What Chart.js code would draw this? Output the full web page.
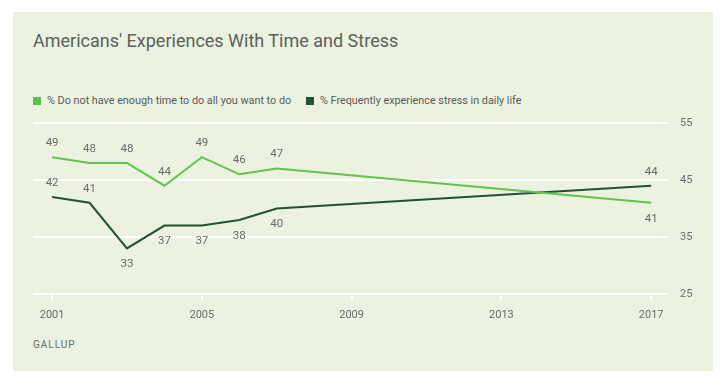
<!DOCTYPE html>
<html>
<head>
<meta charset="utf-8">
<script src="https://cdn.jsdelivr.net/npm/chart.js@4.4.1/dist/chart.umd.min.js"></script>
<style>
    html, body { margin: 0; padding: 0; background: #ffffff; }
    body { width: 728px; height: 386px; position: relative; overflow: hidden;
           font-family: Roboto, "Noto Sans", sans-serif; }
    .panel { position: absolute; left: 13px; top: 12px; width: 700px; height: 359px; background: #ebf2df; }
    .title { position: absolute; left: 33px; top: 30px; font-size: 18px; color: #5b615b; }
    .legend { position: absolute; top: 94px; font-size: 10.8px; color: #5a5a5a; white-space: nowrap; }
    .legend span.box { display: inline-block; width: 8px; height: 8px; margin-right: 6px; vertical-align: -1px; }
    .source { position: absolute; left: 33px; top: 339px; font-size: 10px; letter-spacing: 1px; color: #6a6a6a; }
    canvas { position: absolute; left: 0; top: 0; }
</style>
</head>
<body>
<div class="panel"></div>
<div class="title">Americans' Experiences With Time and Stress</div>
<div class="legend" style="left:33px"><span class="box" style="background:#5cbf4c"></span>% Do not have enough time to do all you want to do</div>
<div class="legend" style="left:306px"><span class="box" style="background:#24512f"></span>% Frequently experience stress in daily life</div>
<div class="source">GALLUP</div>
<canvas id="chart" width="728" height="386"></canvas>
<script>
//-----------------------------------------------------------------------------
// data
//-----------------------------------------------------------------------------
const years       = [2001, 2002, 2003, 2004, 2005, 2006, 2007, 2017];
const notEnoughTime = [49, 48, 48, 44, 49, 46, 47, 41];
const oftenStressed = [42, 41, 33, 37, 37, 38, 40, 44];
const yearTicks   = [2001, 2005, 2009, 2013, 2017];
const valueTicks  = [25, 35, 45, 55];

const lightGreen = '#62c352';
const darkGreen  = '#24512f';

// which side of the point each value label goes on
const timeLabelSide   = ['up', 'up', 'up', 'up', 'up', 'up', 'up', 'down'];
const stressLabelSide = ['up', 'up', 'down', 'down', 'down', 'down', 'down', 'up'];

function toPoints(values){
    return values.map((v, i) => ({ x: years[i], y: v }));
}
//-----------------------------------------------------------------------------
// little plugin to write the numbers next to each point
//-----------------------------------------------------------------------------
const valueLabels = {
    id: 'valueLabels',
    afterDatasetsDraw(chart){
        const ctx = chart.ctx;
        ctx.save();
        ctx.font = '11.5px Roboto, "Noto Sans", sans-serif';
        ctx.fillStyle = '#6b6b6b';
        ctx.textAlign = 'center';
        ctx.textBaseline = 'middle';
        chart.data.datasets.forEach((ds, di) => {
            const sides = ds.labelSides;
            chart.getDatasetMeta(di).data.forEach((pt, i) => {
                const dy = sides[i] === 'up' ? -14 : 16;
                ctx.fillText(ds.data[i].y, pt.x, pt.y + dy);
            });
        });
        ctx.restore();
    }
};

new Chart(document.getElementById('chart'), {
    type: 'line',
    data: {
        datasets: [
            {
                label: '% Do not have enough time to do all you want to do',
                data: toPoints(notEnoughTime),
                borderColor: lightGreen,
                borderWidth: 2,
                pointRadius: 0,
                tension: 0,
                labelSides: timeLabelSide
            },
            {
                label: '% Frequently experience stress in daily life',
                data: toPoints(oftenStressed),
                borderColor: darkGreen,
                borderWidth: 2,
                pointRadius: 0,
                tension: 0,
                labelSides: stressLabelSide
            }
        ]
    },
    options: {
        responsive: false,
        animation: false,
        layout: { padding: { left: 33, top: 123, right: 0, bottom: 0 } },
        plugins: {
            legend: { display: false },
            tooltip: { enabled: false }
        },
        scales: {
            x: {
                type: 'linear',
                min: 2000.49,
                max: 2017.45,
                afterBuildTicks: (axis) => { axis.ticks = yearTicks.map(v => ({ value: v })); },
                afterFit: (axis) => { axis.height = 92; },
                border: { display: false },
                grid: {
                    drawOnChartArea: false,
                    drawTicks: true,
                    tickLength: 6,
                    color: '#ffffff',
                    lineWidth: 2
                },
                ticks: {
                    padding: 9,
                    maxRotation: 0,
                    color: '#6b6b6b',
                    font: { size: 11, family: 'Roboto, "Noto Sans", sans-serif' },
                    callback: (v) => String(v)
                }
            },
            y: {
                position: 'right',
                min: 25,
                max: 55,
                afterBuildTicks: (axis) => { axis.ticks = valueTicks.map(v => ({ value: v })); },
                afterFit: (axis) => { axis.width = 60; },
                border: { display: false },
                grid: {
                    color: '#ffffff',
                    lineWidth: 2,
                    drawTicks: false
                },
                ticks: {
                    padding: 12,
                    color: '#6b6b6b',
                    font: { size: 11, family: 'Roboto, "Noto Sans", sans-serif' }
                }
            }
        }
    },
    plugins: [valueLabels]
});
</script>
</body>
</html>
